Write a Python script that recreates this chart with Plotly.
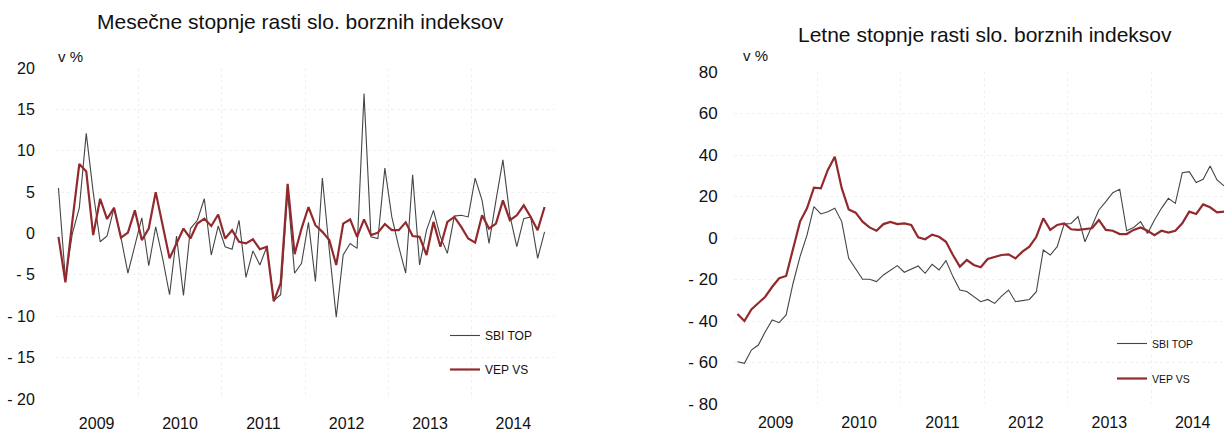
import plotly.graph_objects as go

# ---------------- data ----------------
years = ["2009", "2010", "2011", "2012", "2013", "2014"]
# monthly observations Jan 2009 .. Nov 2014 (71 months)
sbi_monthly = [5.5, -5.5, 0.0, 3.1, 12.1, 5.0, -1.0, -0.3, 3.1, -0.5,
               -4.8, -1.5, 1.9, -3.9, 0.8, -3.0, -7.4, -0.3, -7.5, 0.6,
               1.6, 4.2, -2.6, 0.9, -1.6, -1.9, 1.6, -5.3, -2.1, -3.8,
               -1.6, -8.1, -7.4, 5.0, -4.8, -3.6, 1.35, -5.8, 6.7, -2.0,
               -10.1, -2.6, -1.2, -1.8, 16.9, -0.4, -0.6, 7.9, 2.0, -1.6,
               -4.8, 7.1, -3.8, 0.4, 2.8, -0.4, -2.4, 2.1, 2.2, 2.0,
               6.7, 4.0, -1.2, 4.0, 8.9, 2.2, -1.6, 1.8, 2.0, -3.0,
               0.2]
vep_monthly = [-0.4, -5.9, 1.5, 8.4, 7.5, -0.2, 4.2, 1.75, 3.1, -0.5,
               0.1, 2.8, -0.8, 0.6, 5.0, 0.8, -3.0, -1.2, 0.6, -0.6,
               1.2, 1.8, 0.9, 2.3, -0.6, 0.4, -1.0, -1.2, -0.7, -1.9,
               -1.6, -8.2, -6.0, 6.0, -2.5, 0.6, 3.2, 1.0, 0.2, -0.8,
               -3.8, 1.2, 1.7, -0.4, 1.7, -0.2, 0.1, 1.15, 0.4, 0.4,
               1.35, -0.3, -0.4, -2.6, 1.4, -1.6, 1.4, 2.0, 0.8, -0.6,
               -1.1, 2.2, 0.6, 1.2, 4.0, 1.6, 2.2, 3.4, 2.0, 0.4,
               3.2]
sbi_annual = [-59.6, -60.4, -54.0, -51.6, -45.2, -39.5, -40.8, -37.1, -21.8, -9.0,
              1.4, 15.1, 11.6, 12.7, 14.3, 7.9, -9.8, -14.6, -19.9, -19.9,
              -21.0, -17.8, -15.4, -13.3, -16.5, -14.9, -13.5, -17.0, -12.7, -15.4,
              -10.9, -18.6, -25.1, -25.8, -28.3, -30.7, -29.6, -31.5, -28.0, -25.1,
              -30.7, -30.2, -29.6, -25.9, -5.8, -8.2, -4.2, 6.7, 7.0, 10.3,
              -1.8, 5.8, 13.5, 17.5, 21.8, 23.5, 3.5, 5.1, 7.9, 2.2,
              8.7, 14.3, 19.1, 16.7, 31.5, 32.0, 26.7, 28.3, 34.7, 28.0,
              25.1]
vep_annual = [-36.6, -40.0, -34.4, -31.5, -28.3, -23.5, -19.4, -18.3, -5.8, 7.9,
              14.3, 24.3, 23.9, 32.8, 39.2, 24.0, 13.8, 12.2, 7.9, 5.1,
              3.5, 6.7, 7.7, 6.7, 7.0, 6.3, 0.3, -0.6, 1.6, 0.6,
              -1.8, -8.2, -13.8, -10.6, -13.0, -14.1, -10.1, -9.0, -8.2, -7.9,
              -9.8, -6.6, -4.2, 0.6, 9.5, 3.9, 6.3, 7.0, 4.2, 3.9,
              4.2, 4.7, 8.7, 3.9, 3.5, 1.9, 1.9, 3.9, 5.1, 3.5,
              1.4, 3.5, 2.6, 3.5, 7.1, 12.7, 11.6, 16.2, 14.8, 12.4,
              12.7]
left_yticks = [-20, -15, -10, -5, 0, 5, 10, 15, 20]
right_yticks = [-80, -60, -40, -20, 0, 20, 40, 60, 80]

month_index = list(range(len(sbi_monthly)))  # month number from Jan 2009
year_centers = [12 * k + 5.5 for k in range(len(years))]
year_bounds = [12 * k - 0.5 for k in range(len(years) + 1)]


def fmt(v):
    return f"- {abs(v)}" if v < 0 else str(v)


GRAY = "#454545"
RED = "#922a2d"
GRID = "#f1f1f1"
FONT = "Liberation Sans, Arial, sans-serif"

fig = go.Figure()
fig.add_trace(go.Scatter(x=month_index, y=sbi_monthly, name="SBI TOP", mode="lines",
                         line=dict(color=GRAY, width=1.1), xaxis="x", yaxis="y",
                         legend="legend", legendgroup="a"))
fig.add_trace(go.Scatter(x=month_index, y=vep_monthly, name="VEP VS", mode="lines",
                         line=dict(color=RED, width=2.2), xaxis="x", yaxis="y",
                         legend="legend", legendgroup="b"))
fig.add_trace(go.Scatter(x=month_index, y=sbi_annual, name="SBI TOP", mode="lines",
                         line=dict(color=GRAY, width=1.1), xaxis="x2", yaxis="y2",
                         legend="legend2", legendgroup="c"))
fig.add_trace(go.Scatter(x=month_index, y=vep_annual, name="VEP VS", mode="lines",
                         line=dict(color=RED, width=2.2), xaxis="x2", yaxis="y2",
                         legend="legend2", legendgroup="d"))

W, H = 1226, 432


def xax(dom, rng, anchor, tlen):
    return dict(domain=dom, range=rng, anchor=anchor, tickmode="array",
                tickvals=year_centers, ticktext=years, showgrid=False, zeroline=False,
                showline=False, ticks="outside", ticklen=tlen, tickcolor="rgba(0,0,0,0)",
                tickfont=dict(size=16, color="#111", family=FONT),
                minor=dict(tickmode="array", tickvals=year_bounds, showgrid=True,
                           gridcolor=GRID, griddash="dot", gridwidth=1, ticks=""))


def yax(dom, rng, ticks, anchor, tlen, fsize):
    return dict(domain=dom, range=rng, anchor=anchor, tickmode="array",
                tickvals=ticks, ticktext=[fmt(t) for t in ticks], showgrid=True,
                gridcolor=GRID, griddash="dot", gridwidth=1, zeroline=False,
                showline=False, ticks="outside", ticklen=tlen, tickcolor="rgba(0,0,0,0)",
                tickfont=dict(size=fsize, color="#111", family=FONT))


fig.update_layout(
    width=W, height=H, margin=dict(l=0, r=0, t=0, b=0, autoexpand=False),
    paper_bgcolor="white", plot_bgcolor="white",
    font=dict(family=FONT, color="#111"),
    xaxis=xax([55 / W, 555 / W], [-0.5, 71.5], "y", 10),
    yaxis=yax([1 - 399 / H, 1 - 68 / H], [-20, 20], left_yticks, "x", 16, 16),
    xaxis2=xax([734 / W, 1.0], [-0.5, 70.29], "y2", 4),
    yaxis2=yax([1 - 404 / H, 1 - 72 / H], [-80, 80], right_yticks, "x2", 12, 17),
    legend=dict(x=445 / W, y=1 - 321 / H, xanchor="left", yanchor="top",
                font=dict(size=12, family=FONT, color="#111"), tracegroupgap=15,
                bgcolor="rgba(0,0,0,0)", borderwidth=0),
    legend2=dict(x=1112 / W, y=1 - 329 / H, xanchor="left", yanchor="top",
                 font=dict(size=10.5, family=FONT, color="#111"), tracegroupgap=16,
                 bgcolor="rgba(0,0,0,0)", borderwidth=0),
    annotations=[
        dict(text="Mesečne stopnje rasti slo. borznih indeksov", x=300 / W, y=1 - 21 / H,
             xref="paper", yref="paper", showarrow=False, xanchor="center", yanchor="middle",
             font=dict(size=21, family=FONT, color="#111")),
        dict(text="Letne stopnje rasti slo. borznih indeksov", x=985 / W, y=1 - 35 / H,
             xref="paper", yref="paper", showarrow=False, xanchor="center", yanchor="middle",
             font=dict(size=21, family=FONT, color="#111")),
        dict(text="v %", x=70 / W, y=1 - 57 / H, xref="paper", yref="paper",
             showarrow=False, xanchor="center", yanchor="middle",
             font=dict(size=15, family=FONT, color="#111")),
        dict(text="v %", x=755 / W, y=1 - 55 / H, xref="paper", yref="paper",
             showarrow=False, xanchor="center", yanchor="middle",
             font=dict(size=15, family=FONT, color="#111")),
    ],
)

fig.write_html("out.html", config={"displayModeBar": False},
               post_script="document.body.style.margin='0';document.body.style.overflow='hidden';")
